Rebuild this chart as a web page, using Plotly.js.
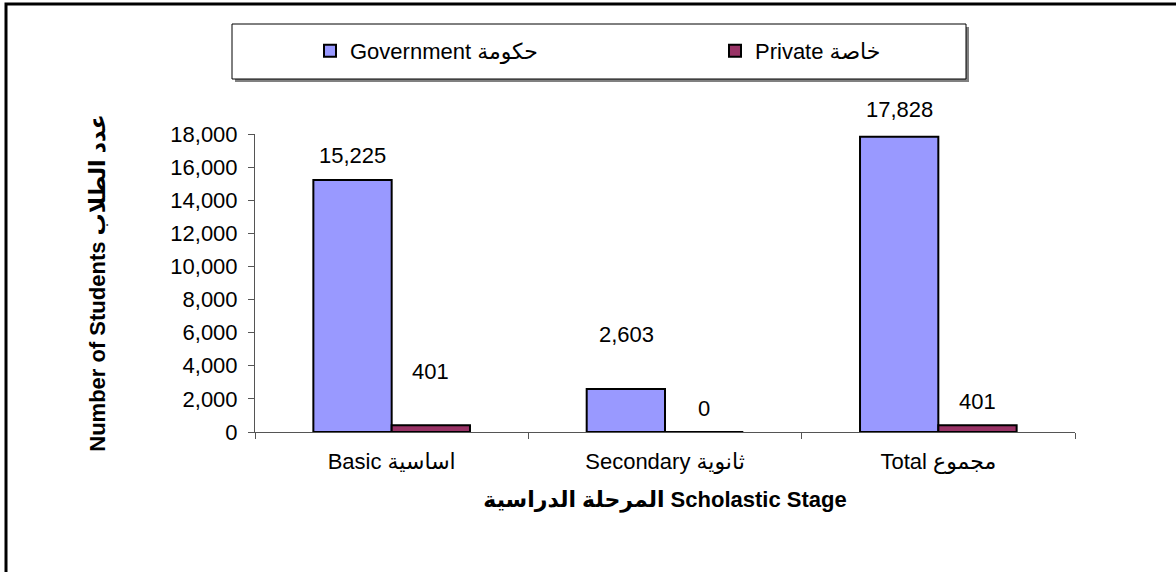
<!DOCTYPE html>
<html>
<head>
<meta charset="utf-8">
<script src="https://cdn.plot.ly/plotly-3.0.1.min.js"></script>
<style>
  html, body { margin: 0; padding: 0; background: #ffffff; }
  #chart { width: 1176px; height: 572px; }
</style>
</head>
<body>
<div id="chart"></div>
<script>
// ---- data ----
const categories = ["Basic اساسية", "Secondary ثانوية", "Total مجموع"];
const seriesNames = ["Government حكومة", "Private خاصة"];
const governmentValues = [15225, 2603, 17828];
const privateValues = [401, 0, 401];
const yTickValues = [0, 2000, 4000, 6000, 8000, 10000, 12000, 14000, 16000, 18000];

// label lift above bar top (px) – styling only
const govLabelLift = [24, 54, 27];
const privLabelLift = [54, 24, 24];

const FONT = "'Liberation Sans', Arial, 'DejaVu Sans', sans-serif";

const traces = [
  {
    type: "bar",
    name: seriesNames[0],
    x: categories,
    y: governmentValues,
    marker: { color: "#9999FF", line: { color: "#000000", width: 2 } },
    hoverinfo: "x+y"
  },
  {
    type: "bar",
    name: seriesNames[1],
    x: categories,
    y: privateValues,
    marker: { color: "#993366", line: { color: "#000000", width: 2 } },
    hoverinfo: "x+y"
  }
];

const fmt = v => v.toLocaleString("en-US");
const annotations = [];
categories.forEach((c, i) => {
  annotations.push({
    x: c, y: governmentValues[i], xref: "x", yref: "y",
    text: fmt(governmentValues[i]), showarrow: false,
    xshift: -39, yshift: govLabelLift[i], yanchor: "middle",
    font: { family: FONT, size: 22, color: "#000" }
  });
  annotations.push({
    x: c, y: privateValues[i], xref: "x", yref: "y",
    text: fmt(privateValues[i]), showarrow: false,
    xshift: 39, yshift: privLabelLift[i], yanchor: "middle",
    font: { family: FONT, size: 22, color: "#000" }
  });
});

// paper coordinate helpers (plot area: x 255..1075, y 134..432 px)
const px = v => (v - 255) / 820;
const py = v => (432 - v) / 298;

const shapes = [
  // outer chart frame (top & left visible)
  { type: "rect", xref: "paper", yref: "paper",
    x0: px(6), x1: px(1230), y0: py(640), y1: py(4),
    line: { color: "#000", width: 3 }, fillcolor: "rgba(0,0,0,0)", layer: "above" },
  // legend shadow
  { type: "rect", xref: "paper", yref: "paper",
    x0: px(235), x1: px(969), y0: py(82), y1: py(27),
    line: { width: 0 }, fillcolor: "#808080", layer: "above" },
  // legend box
  { type: "rect", xref: "paper", yref: "paper",
    x0: px(232), x1: px(966), y0: py(79), y1: py(24),
    line: { color: "#000", width: 1 }, fillcolor: "#ffffff", layer: "above" }
];

const layout = {
  width: 1176,
  height: 572,
  paper_bgcolor: "#ffffff",
  plot_bgcolor: "#ffffff",
  font: { family: FONT, size: 22, color: "#000" },
  margin: { l: 255, r: 101, t: 134, b: 140, pad: 0 },
  barmode: "group",
  bargap: 0.427,
  bargroupgap: 0,
  showlegend: true,
  legend: {
    orientation: "h",
    x: px(310), xanchor: "left",
    y: py(51), yanchor: "middle",
    bgcolor: "rgba(0,0,0,0)",
    borderwidth: 0,
    font: { family: FONT, size: 22, color: "#000" },
    entrywidth: 360,
    entrywidthmode: "pixels"
  },
  xaxis: {
    type: "category",
    showline: true, linecolor: "#555", linewidth: 1,
    ticks: "outside", ticklen: 6, tickcolor: "#555", tickwidth: 1,
    tickson: "boundaries",
    ticklabelstandoff: 10,
    showgrid: false, zeroline: false,
    tickfont: { family: FONT, size: 22, color: "#000" },
    title: {
      text: "المرحلة الدراسية Scholastic Stage",
      font: { family: FONT, size: 22, color: "#000", weight: "bold" },
      standoff: 18
    }
  },
  yaxis: {
    range: [0, 18000],
    tickvals: yTickValues,
    ticktext: yTickValues.map(fmt),
    showline: true, linecolor: "#555", linewidth: 1,
    ticks: "outside", ticklen: 6, tickcolor: "#555", tickwidth: 1,
    ticklabelstandoff: 6,
    showgrid: false, zeroline: false,
    tickfont: { family: FONT, size: 22, color: "#000" },
    title: {
      text: "Number of Students عدد الطلاب",
      font: { family: FONT, size: 22, color: "#000", weight: "bold" },
      standoff: 58
    }
  },
  annotations: annotations,
  shapes: shapes
};

Plotly.newPlot("chart", traces, layout, { displayModeBar: false, staticPlot: true });
</script>
</body>
</html>
